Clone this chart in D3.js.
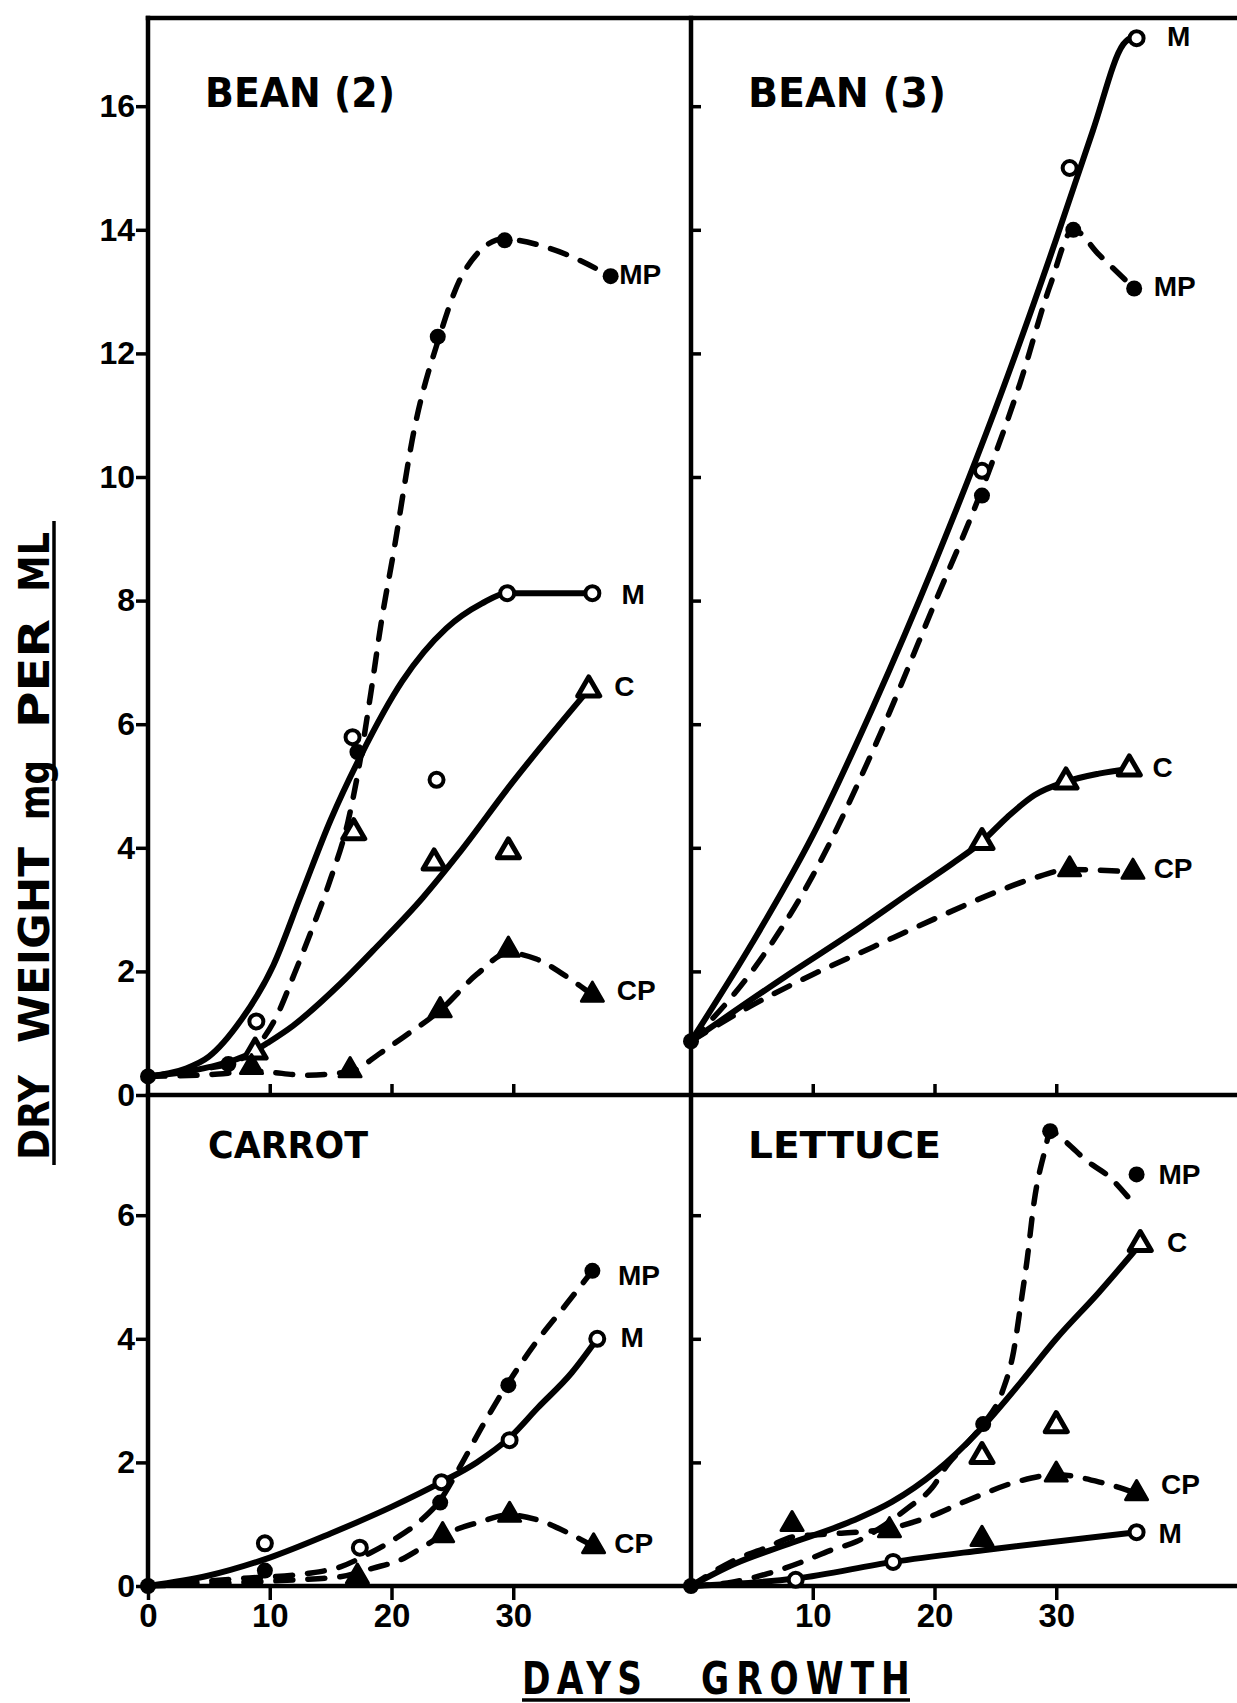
<!DOCTYPE html>
<html><head><meta charset="utf-8">
<script src="https://cdn.jsdelivr.net/npm/d3@7"></script>
<style>body{margin:0;background:#fff}svg{display:block}</style>
</head><body>
<svg id="chart" width="1237" height="1703"></svg>
<script>
// ---------------- DATA (day, dry weight mg per ml) ----------------
const yTicksTop = [0, 2, 4, 6, 8, 10, 12, 14, 16];
const yTicksBottom = [0, 2, 4, 6];
const xTicksLeft = [0, 10, 20, 30];
const xTicksRight = [10, 20, 30];
const panelTitles = ["BEAN (2)", "BEAN (3)", "CARROT", "LETTUCE"];
const seriesNames = ["M", "MP", "C", "CP"];

// BEAN (2)
const bean2M_line  = [[0,0.3],[3,0.42],[5,0.62],[7.6,1.2],[10.3,2.1],[12.5,3.2],[15,4.45],[17.5,5.5],[20.9,6.7],[24.5,7.55],[27.4,7.95],[29.5,8.12],[36.5,8.12]];
const bean2MP_line = [[0,0.3],[4.3,0.42],[6.6,0.5],[9,0.8],[10.5,1.25],[12,1.95],[13.5,2.7],[15,3.5],[16.4,4.4],[17.5,5.5],[18.3,6.5],[19.2,7.7],[20.1,8.7],[21.9,10.8],[23.9,12.25],[25.9,13.3],[29.2,13.85],[33,13.7],[38,13.25]];
const bean2C_line  = [[0,0.3],[5,0.45],[8.5,0.68],[9.8,0.84],[11.9,1.12],[15.8,1.8],[18.5,2.34],[22.6,3.2],[25.5,3.9],[29.9,5.05],[36.2,6.56]];
const bean2CP_line = [[0,0.3],[5,0.33],[9,0.38],[13,0.32],[16.6,0.38],[19.1,0.68],[21,0.94],[24,1.37],[27,1.95],[29.6,2.3],[31.9,2.2],[34.8,1.86],[36.5,1.62]];
const bean2M_pts   = [[8.9,1.19],[16.8,5.79],[23.7,5.1],[29.5,8.12],[36.5,8.12]];
const bean2MP_pts  = [[0,0.3],[6.6,0.5],[17.2,5.55],[23.8,12.27],[29.3,13.83],[38,13.25]];
const bean2C_pts   = [[8.8,0.7],[16.9,4.25],[23.5,3.76],[29.6,3.94],[36.2,6.56]];
const bean2CP_pts  = [[8.5,0.45],[16.6,0.4],[24,1.37],[29.6,2.35],[36.5,1.62]];
const bean2Labels  = [[38.9,8.11],[38.7,13.28],[38.3,6.62],[38.5,1.70]];

// BEAN (3)
const bean3M_line  = [[0,0.87],[5,2.45],[10,4.2],[15,6.3],[20,8.6],[25,11.1],[30,13.85],[33,15.6],[35.5,17.0],[36.6,17.15]];
const bean3MP_line = [[0,0.87],[5,2.0],[10,3.55],[15,5.6],[20,7.95],[24,9.85],[27,11.5],[29.5,13.1],[31.4,14.0],[33.5,13.6],[36.4,13.05]];
const bean3C_line  = [[0,0.87],[7.7,1.91],[13.2,2.62],[18.6,3.36],[21.5,3.75],[23.9,4.1],[26,4.5],[28.2,4.85],[30.8,5.07],[33.5,5.2],[36,5.28]];
const bean3CP_line = [[0,0.87],[5,1.45],[10,1.95],[15,2.4],[20,2.85],[25,3.28],[28,3.5],[31.1,3.65],[36.3,3.61]];
const bean3M_pts   = [[23.9,10.1],[31.1,15.0],[36.6,17.1]];
const bean3MP_pts  = [[0,0.87],[23.9,9.7],[31.4,14.0],[36.4,13.05]];
const bean3C_pts   = [[23.9,4.09],[30.8,5.07],[36.0,5.28]];
const bean3CP_pts  = [[31.1,3.65],[36.3,3.61]];
const bean3Labels  = [[39.1,17.14],[38.0,13.09],[37.9,5.31],[38.0,3.67]];

// CARROT
const carrotM_line  = [[0,0],[5,0.17],[10,0.46],[15,0.85],[20,1.28],[24.1,1.68],[27,2.0],[29.7,2.4],[32,2.88],[34.8,3.45],[36.9,4.0]];
const carrotMP_line = [[0,0],[7.5,0.12],[13,0.2],[15.8,0.31],[18.2,0.53],[20.1,0.74],[22.4,1.06],[24,1.39],[25.6,1.92],[27.5,2.6],[29.6,3.29],[31.9,3.95],[34.4,4.57],[36.5,5.1]];
const carrotCP_line = [[0,0],[8,0.06],[12,0.1],[15.8,0.15],[18.5,0.29],[20.7,0.42],[22.5,0.62],[24.2,0.82],[27,1.02],[29.7,1.15],[32,1.07],[34.5,0.86],[36.6,0.64]];
const carrotM_pts   = [[9.6,0.69],[17.4,0.62],[24.1,1.68],[29.7,2.36],[36.9,4.0]];
const carrotMP_pts  = [[0,0],[9.6,0.25],[24.0,1.35],[29.6,3.25],[36.5,5.1]];
const carrotCP_pts  = [[17.2,0.15],[24.2,0.82],[29.7,1.15],[36.6,0.64]];
const carrotLabels  = [[38.8,4.03],[38.6,5.03],null,[38.3,0.70]];

// LETTUCE
const lettuceM_line  = [[0,0],[8.6,0.12],[16.6,0.39],[24,0.58],[36.6,0.87]];
const lettuceMP_line = [[0,0],[3,0.05],[6.3,0.2],[9,0.38],[11.5,0.58],[13.6,0.72],[16,1.0],[17.8,1.26],[19.8,1.59],[21.1,1.97],[22.3,2.23],[24,2.62],[25.6,3.16],[26.5,3.8],[27.1,4.58],[27.6,5.27],[28.2,6.24],[29.1,7.07],[29.5,7.36],[30.7,7.2],[32.5,6.88],[34.3,6.63],[36,6.27]];
const lettuceC_line  = [[0,0],[3.6,0.36],[7.7,0.66],[13.2,1.05],[16.5,1.36],[20.1,1.85],[23.6,2.5],[27.1,3.3],[30,4.0],[33.5,4.75],[36.9,5.53]];
const lettuceCP_line = [[0,0],[3.6,0.42],[6.3,0.63],[8.5,0.8],[12,0.85],[16,0.92],[19.3,1.1],[22.9,1.4],[27,1.7],[30,1.8],[33.8,1.67],[36.6,1.5]];
const lettuceM_pts   = [[8.6,0.1],[16.6,0.39],[36.6,0.87]];
const lettuceMP_pts  = [[0,0],[24,2.62],[29.5,7.36],[36.6,6.66]];
const lettuceC_pts   = [[23.9,2.1],[30,2.6],[36.9,5.53]];
const lettuceCP_pts  = [[8.3,1.0],[16.3,0.9],[23.9,0.76],[30,1.8],[36.6,1.5]];
const lettuceLabels  = [[38.4,0.86],[38.4,6.67],[39.1,5.57],[38.6,1.65]];

// ---------------- LAYOUT ----------------
const svg = d3.select("#chart");
const X0L = 148, X0R = 691, XW = 543, XMAX = 44.6;
const Y0T = 1095, Y0B = 1586, PXU = 61.8, TOPY = 18;
const xL = d3.scaleLinear().domain([0, XMAX]).range([X0L, X0L + XW]);
const xR = d3.scaleLinear().domain([0, XMAX]).range([X0R, X0R + XW]);
const yT = d3.scaleLinear().domain([0, (Y0T - TOPY) / PXU]).range([Y0T, TOPY]);
const yB = d3.scaleLinear().domain([0, (Y0B - Y0T) / PXU]).range([Y0B, Y0T]);

const panels = [
  {title: panelTitles[0], x: xL, y: yT, tx: 205, ty: 107, tw: 190, fs: 40,
   lines: [bean2M_line, bean2MP_line, bean2C_line, bean2CP_line],
   pts: [bean2M_pts, bean2MP_pts, bean2C_pts, bean2CP_pts], labels: bean2Labels},
  {title: panelTitles[1], x: xR, y: yT, tx: 748, ty: 107, tw: 198, fs: 40,
   lines: [bean3M_line, bean3MP_line, bean3C_line, bean3CP_line],
   pts: [bean3M_pts, bean3MP_pts, bean3C_pts, bean3CP_pts], labels: bean3Labels},
  {title: panelTitles[2], x: xL, y: yB, tx: 208, ty: 1158, tw: 160, fs: 38,
   lines: [carrotM_line, carrotMP_line, null, carrotCP_line],
   pts: [carrotM_pts, carrotMP_pts, [], carrotCP_pts], labels: carrotLabels},
  {title: panelTitles[3], x: xR, y: yB, tx: 748, ty: 1158, tw: 193, fs: 38,
   lines: [lettuceM_line, lettuceMP_line, lettuceC_line, lettuceCP_line],
   pts: [lettuceM_pts, lettuceMP_pts, lettuceC_pts, lettuceCP_pts], labels: lettuceLabels}
];

const dashed = {M: false, MP: true, C: false, CP: true};
const TITLE_FONT = "'DejaVu Sans', sans-serif";
const TICK_FONT = "'Liberation Sans', Arial, sans-serif";

// ---------------- FRAME ----------------
const frame = svg.append("g").attr("stroke", "#000").attr("stroke-width", 4.5).attr("stroke-linecap", "square");
frame.append("line").attr("x1", X0L).attr("x2", 1237).attr("y1", TOPY).attr("y2", TOPY);
frame.append("line").attr("x1", X0L).attr("x2", 1237).attr("y1", Y0T).attr("y2", Y0T);
frame.append("line").attr("x1", X0L).attr("x2", 1237).attr("y1", Y0B).attr("y2", Y0B);
frame.append("line").attr("x1", X0L).attr("x2", X0L).attr("y1", TOPY).attr("y2", Y0B);
frame.append("line").attr("x1", X0R).attr("x2", X0R).attr("y1", TOPY).attr("y2", Y0B);

// ---------------- AXES ----------------
function styleAxis(g, fs) {
  g.select(".domain").remove();
  g.selectAll(".tick line").attr("stroke", "#000").attr("stroke-width", 3.5);
  g.selectAll(".tick text").attr("fill", "#000").attr("font-family", TICK_FONT)
    .attr("font-weight", "bold").attr("font-size", fs);
}
svg.append("g").attr("transform", `translate(${X0L},0)`)
  .call(d3.axisLeft(yT).tickValues(yTicksTop).tickSize(12).tickPadding(1).tickFormat(d3.format("d")))
  .call(g => styleAxis(g, 32));
svg.append("g").attr("transform", `translate(${X0L},0)`)
  .call(d3.axisLeft(yB).tickValues(yTicksBottom).tickSize(12).tickPadding(1).tickFormat(d3.format("d")))
  .call(g => styleAxis(g, 32));
svg.append("g").attr("transform", `translate(${X0R},0)`)
  .call(d3.axisRight(yT).tickValues(yTicksTop.slice(1)).tickSize(10).tickFormat(""))
  .call(g => styleAxis(g, 32));
svg.append("g").attr("transform", `translate(${X0R},0)`)
  .call(d3.axisRight(yB).tickValues(yTicksBottom.slice(1)).tickSize(10).tickFormat(""))
  .call(g => styleAxis(g, 32));
[xL, xR].forEach(xs => {
  svg.append("g").attr("transform", `translate(0,${Y0T})`)
    .call(d3.axisTop(xs).tickValues(xTicksRight).tickSize(11).tickFormat(""))
    .call(g => styleAxis(g, 32));
});
svg.append("g").attr("transform", `translate(0,${Y0B})`)
  .call(d3.axisBottom(xL).tickValues(xTicksLeft).tickSize(14).tickPadding(4).tickFormat(d3.format("d")))
  .call(g => styleAxis(g, 33));
svg.append("g").attr("transform", `translate(0,${Y0B})`)
  .call(d3.axisBottom(xR).tickValues(xTicksRight).tickSize(14).tickPadding(4).tickFormat(d3.format("d")))
  .call(g => styleAxis(g, 33));

// ---------------- PANELS ----------------
const triShape = d3.symbol(d3.symbolTriangle, 210)();
panels.forEach(p => {
  const g = svg.append("g");
  g.append("text").attr("x", p.tx).attr("y", p.ty).text(p.title)
    .attr("font-family", TITLE_FONT).attr("font-weight", "bold").attr("font-size", p.fs)
    .attr("textLength", p.tw).attr("lengthAdjust", "spacingAndGlyphs");
  const line = d3.line().x(d => p.x(d[0])).y(d => p.y(d[1])).curve(d3.curveMonotoneX);
  seriesNames.forEach((name, i) => {
    const data = p.lines[i];
    if (data) {
      g.append("path").datum(data).attr("d", line).attr("fill", "none")
        .attr("stroke", "#000").attr("stroke-width", dashed[name] ? 5.5 : 6)
        .attr("stroke-linecap", dashed[name] ? "round" : "butt")
        .attr("stroke-linejoin", "round")
        .attr("stroke-dasharray", dashed[name] ? "17 15" : null);
    }
  });
  seriesNames.forEach((name, i) => {
    const pts = p.pts[i] || [];
    pts.forEach(d => {
      const cx = p.x(d[0]), cy = p.y(d[1]);
      if (name === "M") {
        g.append("circle").attr("cx", cx).attr("cy", cy).attr("r", 7)
          .attr("fill", "#fff").attr("stroke", "#000").attr("stroke-width", 4);
      } else if (name === "MP") {
        g.append("circle").attr("cx", cx).attr("cy", cy).attr("r", 8).attr("fill", "#000");
      } else if (name === "C") {
        g.append("path").attr("d", triShape).attr("transform", `translate(${cx},${cy})`)
          .attr("fill", "#fff").attr("stroke", "#000").attr("stroke-width", 5).attr("stroke-linejoin", "round");
      } else {
        g.append("path").attr("d", triShape).attr("transform", `translate(${cx},${cy})`)
          .attr("fill", "#000").attr("stroke", "#000").attr("stroke-width", 3).attr("stroke-linejoin", "round");
      }
    });
  });
  seriesNames.forEach((name, i) => {
    const l = p.labels[i];
    if (!l) return;
    g.append("text").attr("x", p.x(l[0])).attr("y", p.y(l[1])).attr("dy", "0.36em")
      .text(name).attr("font-family", TICK_FONT).attr("font-weight", "bold").attr("font-size", 28);
  });
});

// ---------------- AXIS TITLES ----------------
const axisTitle = svg.append("g").attr("font-family", TITLE_FONT).attr("font-weight", "bold").attr("fill", "#000");
axisTitle.append("text").attr("transform", "translate(522,1694) scale(0.78,1)").text("DAYS")
  .attr("font-size", 44).attr("letter-spacing", 8);
axisTitle.append("text").attr("transform", "translate(701,1694) scale(0.78,1)").text("GROWTH")
  .attr("font-size", 44).attr("letter-spacing", 9);
svg.append("line").attr("x1", 522).attr("x2", 910).attr("y1", 1700).attr("y2", 1700)
  .attr("stroke", "#000").attr("stroke-width", 3.5);

const yWords = [["DRY", 1160, 85], ["WEIGHT", 1043, 196], ["mg", 820, 60], ["PER", 728, 109], ["ML", 592, 60]];
yWords.forEach(w => {
  axisTitle.append("text").attr("transform", `translate(49,${w[1]}) rotate(-90)`)
    .text(w[0]).attr("font-size", 42).attr("textLength", w[2]).attr("lengthAdjust", "spacingAndGlyphs");
});
svg.append("line").attr("x1", 54).attr("x2", 54).attr("y1", 521).attr("y2", 1165)
  .attr("stroke", "#000").attr("stroke-width", 3.5);
</script>
</body></html>
